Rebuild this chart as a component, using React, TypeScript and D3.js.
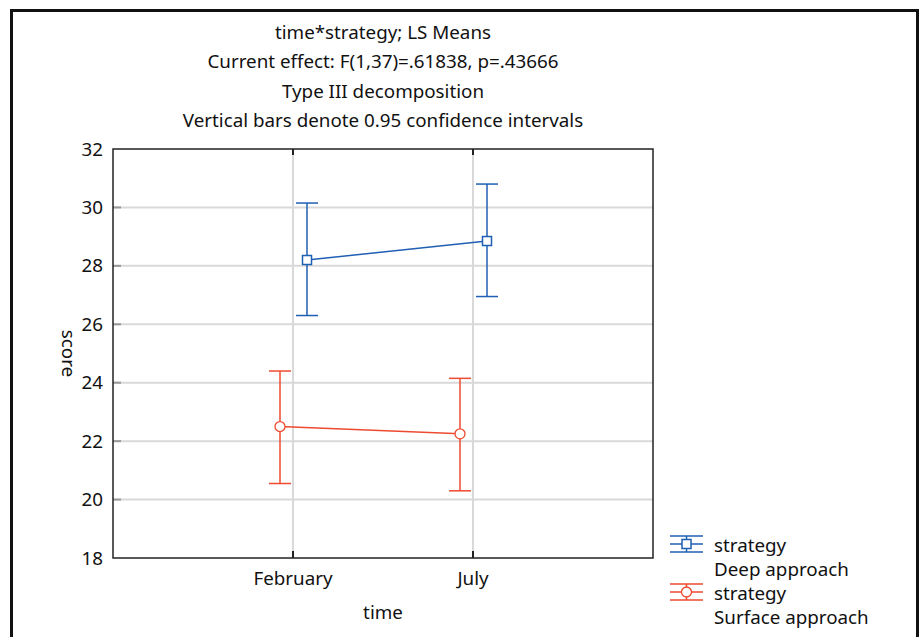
import { useEffect, useRef } from 'react';
import * as d3 from 'd3';

const titleLines = [
    'time*strategy; LS Means',
    'Current effect: F(1,37)=.61838, p=.43666',
    'Type III decomposition',
    'Vertical bars denote 0.95 confidence intervals',
];

const times = ['February', 'July'];
const yTicks = [18, 20, 22, 24, 26, 28, 30, 32];

const seriesNames = ['Deep approach', 'Surface approach'];
const deepMean = [28.2, 28.85];
const deepLow = [26.3, 26.95];
const deepHigh = [30.15, 30.8];
const surfaceMean = [22.5, 22.25];
const surfaceLow = [20.55, 20.3];
const surfaceHigh = [24.4, 24.15];

const FONT = '"Noto Sans", "Open Sans", sans-serif';
const FS = 18.8;

export default function App() {
    const ref = useRef<SVGSVGElement>(null);

    useEffect(() => {
        const svg = d3.select(ref.current);
        svg.selectAll('*').remove();

        const W = 921, H = 637;
        const left = 113, right = 653, top = 149, bottom = 558;

        // outer frame
        svg.append('path')
            .attr('d', `M11.5,${H + 5}V10.5H917.5V${H + 5}`)
            .attr('fill', 'none')
            .attr('stroke', '#111')
            .attr('stroke-width', 3);

        const x = d3.scalePoint<string>()
            .domain(['', ...times, ' '])
            .range([left, right]);

        const y = d3.scaleLinear()
            .domain([18, 32])
            .range([bottom, top]);

        const g = svg.append('g');

        // grid
        g.selectAll('line.hgrid')
            .data(yTicks.filter(d => d > 18 && d < 32))
            .enter().append('line')
            .attr('x1', left).attr('x2', right)
            .attr('y1', d => y(d)).attr('y2', d => y(d))
            .attr('stroke', '#d9d9d9').attr('stroke-width', 2);

        g.selectAll('line.vgrid')
            .data(times)
            .enter().append('line')
            .attr('x1', d => x(d)!).attr('x2', d => x(d)!)
            .attr('y1', top).attr('y2', bottom)
            .attr('stroke', '#d9d9d9').attr('stroke-width', 2);

        // y tick marks (gray, inside)
        g.selectAll('line.ytick')
            .data(yTicks.filter(d => d > 18 && d < 32))
            .enter().append('line')
            .attr('x1', left).attr('x2', left + 8)
            .attr('y1', d => y(d)).attr('y2', d => y(d))
            .attr('stroke', '#999').attr('stroke-width', 2);

        // x tick marks top/bottom
        times.forEach(t => {
            g.append('line')
                .attr('x1', x(t)!).attr('x2', x(t)!)
                .attr('y1', top).attr('y2', top + 6)
                .attr('stroke', '#222').attr('stroke-width', 2);
            g.append('line')
                .attr('x1', x(t)!).attr('x2', x(t)!)
                .attr('y1', bottom).attr('y2', bottom - 7)
                .attr('stroke', '#222').attr('stroke-width', 2);
        });

        // plot frame
        g.append('rect')
            .attr('x', left).attr('y', top)
            .attr('width', right - left).attr('height', bottom - top)
            .attr('fill', 'none')
            .attr('stroke', '#222').attr('stroke-width', 1.5);

        // y labels
        g.selectAll('text.ylab')
            .data(yTicks)
            .enter().append('text')
            .attr('x', left - 10)
            .attr('y', d => y(d))
            .attr('dy', '0.35em')
            .attr('text-anchor', 'end')
            .attr('font-family', FONT).attr('font-size', FS)
            .attr('fill', '#111')
            .text(d => d);

        // x labels
        g.selectAll('text.xlab')
            .data(times)
            .enter().append('text')
            .attr('x', d => x(d)!)
            .attr('y', bottom + 27)
            .attr('text-anchor', 'middle')
            .attr('font-family', FONT).attr('font-size', FS)
            .attr('fill', '#111')
            .text(d => d);

        g.append('text')
            .attr('x', (left + right) / 2)
            .attr('y', 619)
            .attr('text-anchor', 'middle')
            .attr('font-family', FONT).attr('font-size', FS)
            .attr('fill', '#111')
            .text('time');

        g.append('text')
            .attr('transform', `translate(62,${(top + bottom) / 2}) rotate(90)`)
            .attr('text-anchor', 'middle')
            .attr('font-family', FONT).attr('font-size', FS)
            .attr('fill', '#111')
            .text('score');

        // titles
        svg.selectAll('text.title')
            .data(titleLines)
            .enter().append('text')
            .attr('x', (left + right) / 2)
            .attr('y', (d, i) => 38.5 + i * 29.5)
            .attr('text-anchor', 'middle')
            .attr('font-family', FONT).attr('font-size', FS)
            .attr('fill', '#111')
            .text(d => d);

        const series = [
            { name: seriesNames[0], color: '#1f5fb4', mean: deepMean, low: deepLow, high: deepHigh, off: 14, shape: 'square' },
            { name: seriesNames[1], color: '#ee4a2f', mean: surfaceMean, low: surfaceLow, high: surfaceHigh, off: -13, shape: 'circle' },
        ];

        const cap = 11;
        const drawMarker = (sel: any, shape: string, cx: number, cy: number, color: string) => {
            if (shape === 'square') {
                sel.append('rect')
                    .attr('x', cx - 4.5).attr('y', cy - 4.5)
                    .attr('width', 9).attr('height', 9)
                    .attr('fill', 'white').attr('stroke', color).attr('stroke-width', 1.5);
            } else {
                sel.append('circle')
                    .attr('cx', cx).attr('cy', cy).attr('r', 5)
                    .attr('fill', 'white').attr('stroke', color).attr('stroke-width', 1.3);
            }
        };

        series.forEach(s => {
            const sg = g.append('g');
            const px = (i: number) => x(times[i])! + s.off;
            const line = d3.line<number>()
                .x((d, i) => px(i))
                .y(d => y(d));
            sg.append('path')
                .attr('d', line(s.mean))
                .attr('fill', 'none')
                .attr('stroke', s.color).attr('stroke-width', 1.5);
            s.mean.forEach((m, i) => {
                const cx = px(i);
                sg.append('line')
                    .attr('x1', cx).attr('x2', cx)
                    .attr('y1', y(s.low[i])).attr('y2', y(s.high[i]))
                    .attr('stroke', s.color).attr('stroke-width', 1.5);
                [s.low[i], s.high[i]].forEach(v => {
                    sg.append('line')
                        .attr('x1', cx - cap).attr('x2', cx + cap)
                        .attr('y1', y(v)).attr('y2', y(v))
                        .attr('stroke', s.color).attr('stroke-width', 1.5);
                });
                drawMarker(sg, s.shape, cx, y(m), s.color);
            });
        });

        // legend
        const lg = svg.append('g');
        series.forEach((s, i) => {
            const cy = 544 + i * 48;
            const lx = 670, rx = 703, cx = 686.5;
            [-8, 0, 8].forEach(dy => {
                lg.append('line')
                    .attr('x1', lx).attr('x2', rx)
                    .attr('y1', cy + dy).attr('y2', cy + dy)
                    .attr('stroke', s.color).attr('stroke-width', 1.5);
            });
            lg.append('line')
                .attr('x1', cx).attr('x2', cx)
                .attr('y1', cy - 8).attr('y2', cy + 8)
                .attr('stroke', s.color).attr('stroke-width', 1.5);
            drawMarker(lg, s.shape, cx, cy, s.color);
            lg.append('text')
                .attr('x', 714).attr('y', cy + 8)
                .attr('font-family', FONT).attr('font-size', FS)
                .attr('fill', '#111')
                .text('strategy');
            lg.append('text')
                .attr('x', 714).attr('y', cy + 32)
                .attr('font-family', FONT).attr('font-size', FS)
                .attr('fill', '#111')
                .text(s.name);
        });

        svg.attr('width', W).attr('height', H);
    }, []);

    return (
        <svg
            ref={ref}
            width={921}
            height={637}
            style={{ display: 'block', position: 'absolute', left: 0, top: 0, background: 'white' }}
        />
    );
}
